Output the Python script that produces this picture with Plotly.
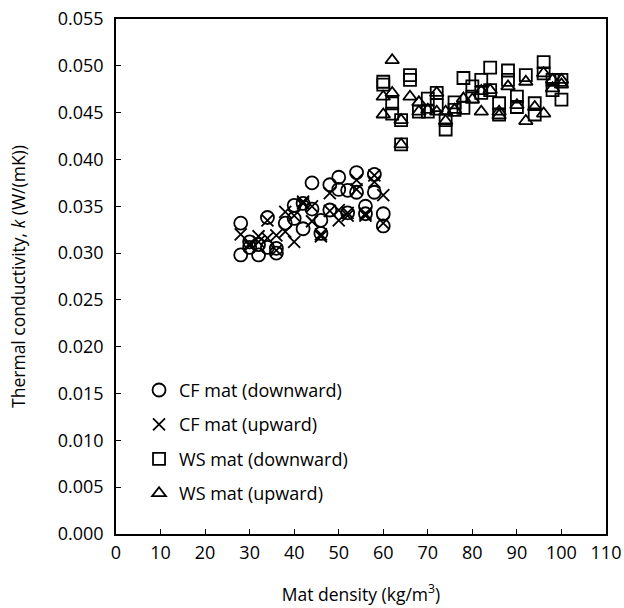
import plotly.graph_objects as go

# CF mat (downward) - circles
cf_down_x = [28, 28, 30, 30, 32, 32, 34, 34, 36, 36, 38, 40, 40, 42, 42, 44, 44, 46, 46,
             48, 48, 50, 50, 52, 52, 54, 54, 56, 56, 58, 58, 60, 60]
cf_down_k = [0.0332, 0.0298, 0.0312, 0.0306, 0.0298, 0.0309, 0.0338, 0.0306, 0.0305, 0.0300,
             0.0332, 0.0351, 0.0337, 0.0326, 0.0353, 0.0375, 0.0347, 0.0335, 0.0321,
             0.0373, 0.0346, 0.0381, 0.0368, 0.0367, 0.0343, 0.0386, 0.0365, 0.0350, 0.0342,
             0.0384, 0.0365, 0.0342, 0.0329]

# CF mat (upward) - crosses
cf_up_x = [28, 30, 30, 32, 32, 34, 34, 36, 36, 38, 38, 40, 40, 42, 42, 44, 44, 46, 46,
           48, 48, 50, 50, 52, 52, 54, 54, 56, 56, 58, 58, 60, 60]
cf_up_k = [0.0320, 0.0310, 0.0308, 0.0318, 0.0312, 0.0335, 0.0316, 0.0319, 0.0303, 0.0344,
           0.0323, 0.0312, 0.0340, 0.0353, 0.0355, 0.0334, 0.0350, 0.0320, 0.0318,
           0.0364, 0.0345, 0.0335, 0.0346, 0.0343, 0.0340, 0.0378, 0.0368, 0.0342, 0.0340,
           0.0383, 0.0376, 0.0362, 0.0332]

# WS mat (downward) - squares
ws_down_x = [60, 60, 62, 62, 64, 64, 66, 66, 68, 70, 70, 72, 72, 74, 74, 76, 76, 78, 78,
             80, 80, 82, 82, 84, 84, 86, 86, 88, 88, 90, 90, 92, 94, 94, 96, 96, 98, 98,
             100, 100]
ws_down_k = [0.0483, 0.0480, 0.0460, 0.0449, 0.0442, 0.0416, 0.0490, 0.0485, 0.0451, 0.0465,
             0.0451, 0.0471, 0.0458, 0.0442, 0.0432, 0.0461, 0.0453, 0.0487, 0.0455,
             0.0478, 0.0467, 0.0485, 0.0471, 0.0498, 0.0474, 0.0460, 0.0448, 0.0495, 0.0485,
             0.0467, 0.0456, 0.0490, 0.0460, 0.0448, 0.0504, 0.0492, 0.0485, 0.0474,
             0.0485, 0.0464]

# WS mat (upward) - triangles
ws_up_x = [60, 60, 62, 62, 64, 64, 66, 68, 68, 70, 72, 72, 74, 74, 76, 78, 80, 82, 82,
           84, 86, 86, 88, 90, 92, 92, 94, 96, 96, 98, 98, 100, 100]
ws_up_k = [0.0467, 0.0448, 0.0506, 0.0471, 0.0442, 0.0416, 0.0467, 0.0461, 0.0451, 0.0453,
           0.0471, 0.0451, 0.0451, 0.0441, 0.0453, 0.0465, 0.0464, 0.0473, 0.0451,
           0.0474, 0.0451, 0.0447, 0.0478, 0.0458, 0.0483, 0.0441, 0.0456, 0.0449, 0.0492,
           0.0485, 0.0476, 0.0485, 0.0480]

x_ticks = [0, 10, 20, 30, 40, 50, 60, 70, 80, 90, 100, 110]
y_ticks = [0.000, 0.005, 0.010, 0.015, 0.020, 0.025, 0.030, 0.035, 0.040, 0.045, 0.050, 0.055]

FONT = "Open Sans"

series = [
    ("CF mat (downward)", cf_down_x, cf_down_k, "circle-open", 13),
    ("CF mat (upward)", cf_up_x, cf_up_k, "x-thin-open", 12),
    ("WS mat (downward)", ws_down_x, ws_down_k, "square-open", 12),
    ("WS mat (upward)", ws_up_x, ws_up_k, "triangle-up-open", 12),
]

fig = go.Figure()
for i, (name, xs, ks, sym, sz) in enumerate(series):
    fig.add_trace(go.Scatter(
        x=xs, y=ks, mode="markers", name=name, legendgroup=f"g{i}",
        marker=dict(symbol=sym, size=sz, color="black",
                    line=dict(color="black", width=1.8)),
    ))

axis_common = dict(
    showline=True, linecolor="black", linewidth=1.5, mirror=True,
    ticks="inside", ticklen=5, tickcolor="black", tickwidth=1.2,
    showgrid=False, zeroline=False, automargin=False,
    ticklabeloverflow="allow",
    tickfont=dict(family=FONT, size=18, color="black"),
)

fig.update_layout(
    template="none",
    width=624, height=608,
    margin=dict(l=116, r=18, t=19, b=74),
    paper_bgcolor="white", plot_bgcolor="white",
    font=dict(family=FONT, size=18, color="black"),
    showlegend=True,
    legend=dict(
        x=0.047, y=0.315, xanchor="left", yanchor="top",
        bgcolor="rgba(0,0,0,0)", borderwidth=0,
        font=dict(family=FONT, size=18, color="black"),
        tracegroupgap=8, itemwidth=30,
    ),
    xaxis=dict(
        range=[0, 110], tickvals=x_ticks, ticktext=[str(v) for v in x_ticks],
        ticklabelstandoff=2,
        title=dict(text="Mat density (kg/m<sup>3</sup>)", standoff=25,
                   font=dict(family=FONT, size=17.5, color="black")),
        **axis_common,
    ),
    yaxis=dict(
        range=[0, 0.055], tickvals=y_ticks, ticktext=[f"{v:.3f}" for v in y_ticks],
        ticklabelstandoff=7,
        title=dict(text="Thermal conductivity, <i>k</i> (W/(mK))", standoff=28,
                   font=dict(family=FONT, size=17.5, color="black")),
        **axis_common,
    ),
)

fig.write_html(
    "out.html",
    config={"displayModeBar": False},
    post_script="document.body.style.margin='0';document.body.style.overflow='hidden';",
)
